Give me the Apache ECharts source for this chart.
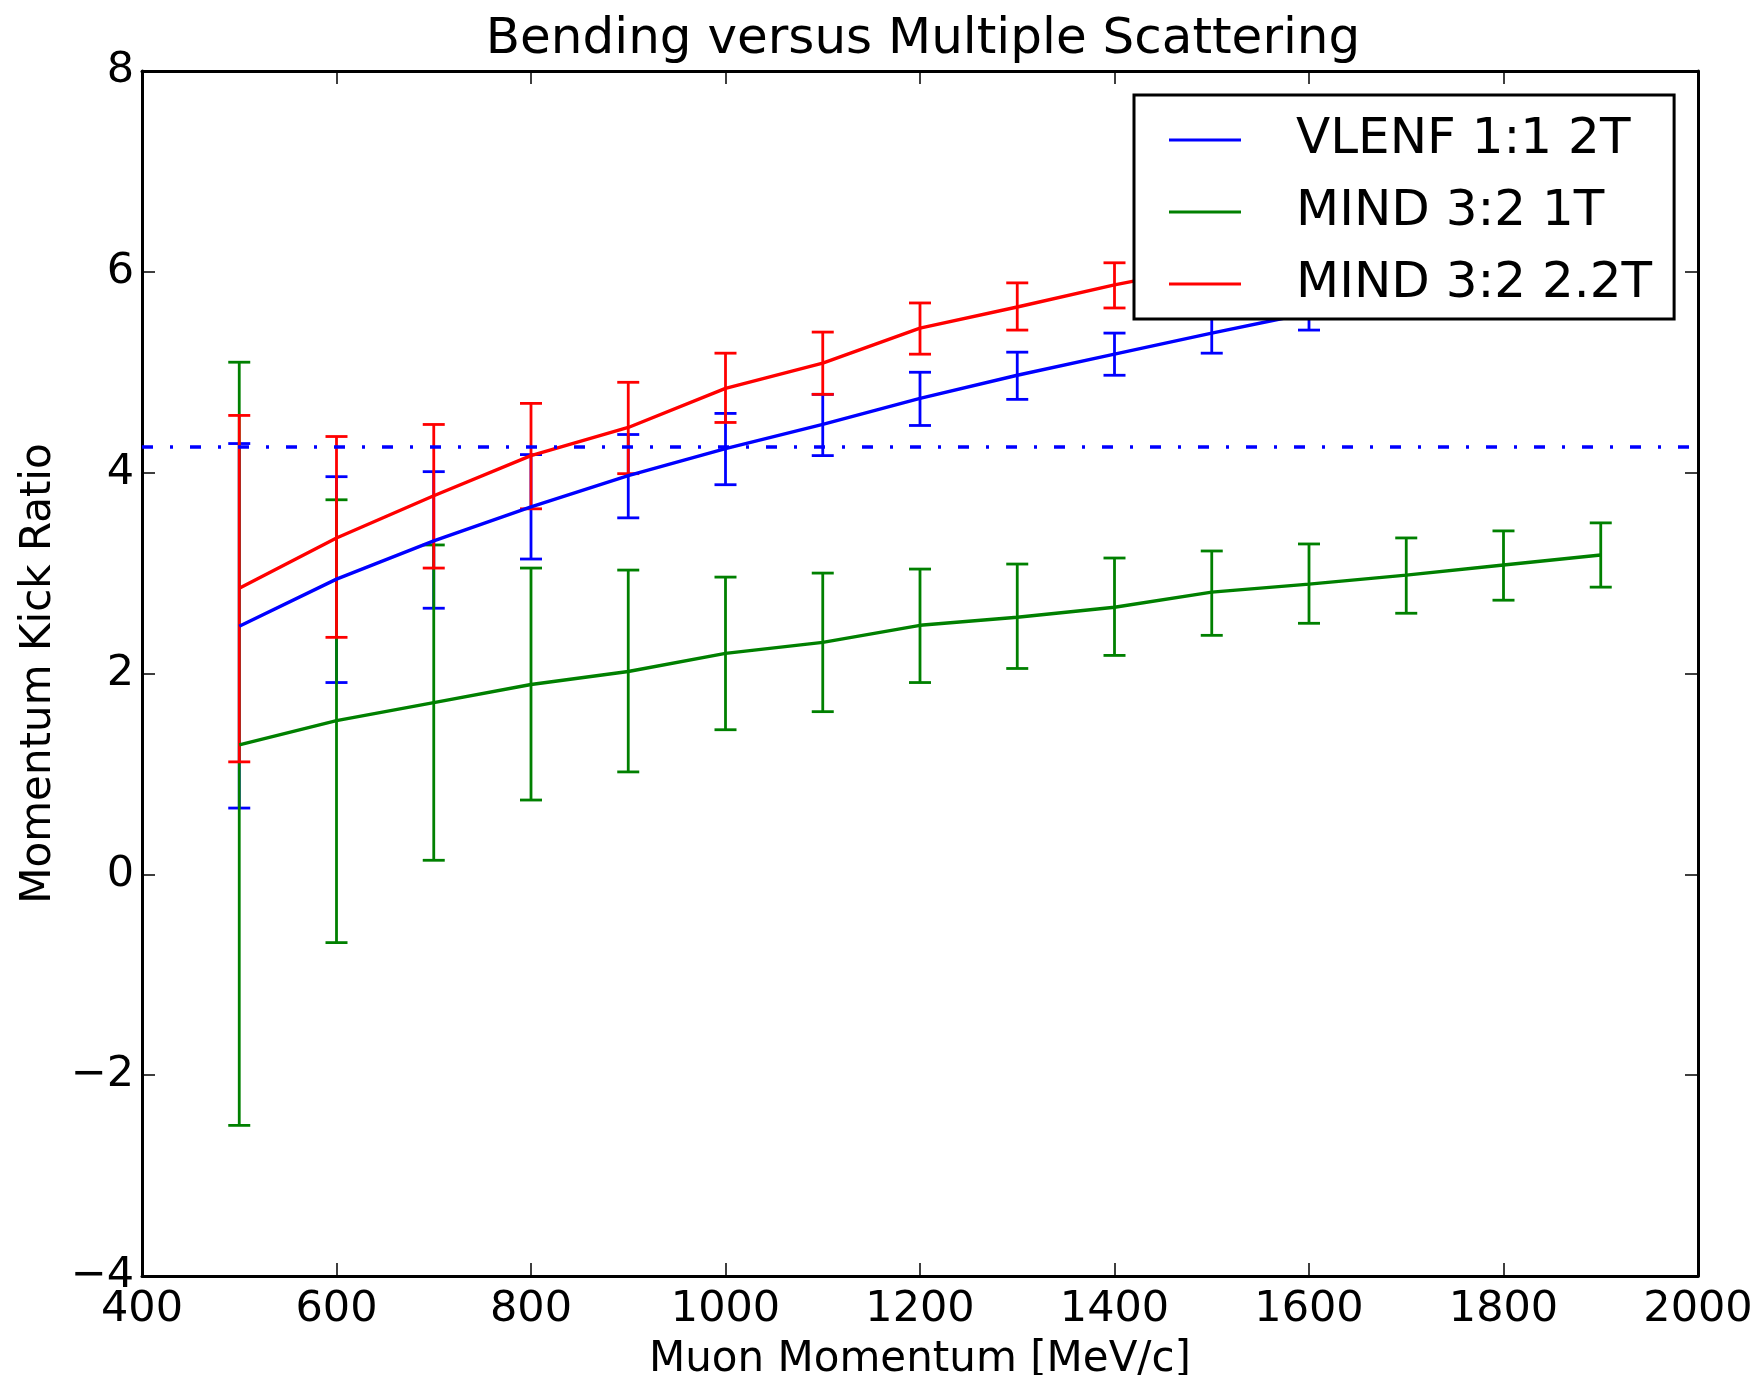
<!DOCTYPE html>
<html>
<head>
<meta charset="utf-8">
<script src="https://cdn.jsdelivr.net/npm/echarts@6/dist/echarts.min.js"></script>
<style>
html,body{margin:0;padding:0;background:#fff;}
#chart{width:1757px;height:1375px;}
</style>
</head>
<body>
<div id="chart"></div>
<script>
// ---- data ----
var TITLE = 'Bending versus Multiple Scattering';
var X_NAME = 'Muon Momentum [MeV/c]';
var Y_NAME = 'Momentum Kick Ratio';
var X_TICKS = [400, 600, 800, 1000, 1200, 1400, 1600, 1800, 2000];
var Y_TICKS = [-4, -2, 0, 2, 4, 6, 8];
var THRESHOLD = 4.26;

var vlenfX  = [500, 600, 700, 800, 900, 1000, 1100, 1200, 1300, 1400, 1500, 1600];
var vlenfY  = [2.47, 2.94, 3.32, 3.66, 3.97, 4.24, 4.48, 4.74, 4.97, 5.18, 5.39, 5.59];
var vlenfLo = [0.66, 1.91, 2.65, 3.14, 3.55, 3.88, 4.17, 4.47, 4.73, 4.97, 5.19, 5.42];
var vlenfHi = [4.29, 3.96, 4.01, 4.18, 4.38, 4.59, 4.78, 5.00, 5.20, 5.39, 5.59, 5.76];

var mind1X  = [500, 600, 700, 800, 900, 1000, 1100, 1200, 1300, 1400, 1500, 1600, 1700, 1800, 1900];
var mind1Y  = [1.29, 1.53, 1.71, 1.89, 2.02, 2.20, 2.31, 2.48, 2.56, 2.66, 2.81, 2.89, 2.98, 3.08, 3.18];
var mind1Lo = [-2.50, -0.68, 0.14, 0.74, 1.02, 1.44, 1.62, 1.91, 2.05, 2.18, 2.38, 2.50, 2.60, 2.73, 2.86];
var mind1Hi = [5.10, 3.73, 3.28, 3.05, 3.03, 2.96, 3.00, 3.04, 3.09, 3.15, 3.22, 3.29, 3.35, 3.42, 3.50];

var mind22X  = [500, 600, 700, 800, 900, 1000, 1100, 1200, 1300, 1400, 1500];
var mind22Y  = [2.85, 3.35, 3.77, 4.17, 4.45, 4.84, 5.09, 5.44, 5.65, 5.87, 6.06];
var mind22Lo = [1.12, 2.36, 3.05, 3.64, 3.99, 4.50, 4.78, 5.18, 5.42, 5.64, 5.85];
var mind22Hi = [4.57, 4.36, 4.48, 4.69, 4.90, 5.19, 5.40, 5.69, 5.89, 6.09, 6.27];

var NAMES = ['VLENF 1:1 2T', 'MIND 3:2 1T', 'MIND 3:2 2.2T'];
var COLORS = ['#0000ff', '#008000', '#ff0000'];

// ---- build options ----
var FONT = 'DejaVu Sans';

function zip2(xs, ys) { return xs.map(function (x, i) { return [x, ys[i]]; }); }
function zip3(xs, lo, hi) { return xs.map(function (x, i) { return [x, lo[i], hi[i]]; }); }

function errSeries(name, color, data) {
  return {
    name: name + ' err',
    type: 'custom',
    data: data,
    encode: { x: 0, y: [1, 2] },
    silent: true,
    z: 2,
    renderItem: function (params, api) {
      var x = api.value(0), lo = api.value(1), hi = api.value(2);
      var a = api.coord([x, lo]), b = api.coord([x, hi]);
      var w = 11;
      var st = { stroke: color, lineWidth: 2.8 };
      return {
        type: 'group',
        children: [
          { type: 'line', shape: { x1: a[0], y1: a[1], x2: b[0], y2: b[1] }, style: st },
          { type: 'line', shape: { x1: a[0] - w, y1: a[1], x2: a[0] + w, y2: a[1] }, style: st },
          { type: 'line', shape: { x1: b[0] - w, y1: b[1], x2: b[0] + w, y2: b[1] }, style: st }
        ]
      };
    }
  };
}

function lineSeries(name, color, data, extra) {
  var s = {
    name: name,
    type: 'line',
    data: data,
    symbol: 'none',
    showSymbol: false,
    silent: true,
    z: 2,
    lineStyle: { color: color, width: 3.4 },
    itemStyle: { color: color }
  };
  if (extra) { for (var k in extra) s[k] = extra[k]; }
  return s;
}

var series = [
  errSeries(NAMES[0], COLORS[0], zip3(vlenfX, vlenfLo, vlenfHi)),
  lineSeries(NAMES[0], COLORS[0], zip2(vlenfX, vlenfY), {
    markLine: {
      silent: true,
      symbol: 'none',
      label: { show: false },
      lineStyle: { color: COLORS[0], width: 3.6, type: [11, 17, 3, 17] },
      data: [{ yAxis: THRESHOLD }]
    }
  }),
  errSeries(NAMES[1], COLORS[1], zip3(mind1X, mind1Lo, mind1Hi)),
  lineSeries(NAMES[1], COLORS[1], zip2(mind1X, mind1Y)),
  errSeries(NAMES[2], COLORS[2], zip3(mind22X, mind22Lo, mind22Hi)),
  lineSeries(NAMES[2], COLORS[2], zip2(mind22X, mind22Y))
];

var xMin = X_TICKS[0], xMax = X_TICKS[X_TICKS.length - 1], xInt = X_TICKS[1] - X_TICKS[0];
var yMin = Y_TICKS[0], yMax = Y_TICKS[Y_TICKS.length - 1], yInt = Y_TICKS[1] - Y_TICKS[0];

function plainFmt(v) { return String(v).replace('-', '\u2212'); }

var axisLine = { show: true, onZero: false, lineStyle: { color: '#000', width: 3 } };
var tick = { show: true, inside: true, length: 13, lineStyle: { color: '#000', width: 1.5 } };

var option = {
  backgroundColor: '#fff',
  animation: false,
  textStyle: { fontFamily: FONT },
  title: {
    text: TITLE,
    left: 918,
    top: 10,
    textAlign: 'center',
    textStyle: { fontFamily: FONT, fontSize: 50, fontWeight: 'normal', color: '#000' }
  },
  grid: { left: 142, right: 59, top: 71, bottom: 99, containLabel: false, outerBoundsMode: 'none' },
  legend: {
    data: NAMES,
    orient: 'vertical',
    left: 1134,
    top: 95,
    padding: [17, 22, 7, 35],
    itemGap: 16,
    itemWidth: 72,
    itemHeight: 3,
    icon: 'rect',
    backgroundColor: '#fff',
    borderColor: '#000',
    borderWidth: 3,
    borderRadius: 0,
    selectedMode: false,
    z: 10,
    textStyle: { fontFamily: FONT, fontSize: 50, color: '#000', lineHeight: 56, padding: [0, 0, 0, 50] }
  },
  xAxis: [
    {
      type: 'value', position: 'bottom', min: xMin, max: xMax, interval: xInt,
      name: X_NAME, nameLocation: 'middle', nameGap: 63,
      nameTextStyle: { fontFamily: FONT, fontSize: 42, color: '#000' },
      axisLine: axisLine, axisTick: tick,
      axisLabel: { show: true, margin: 12, fontFamily: FONT, fontSize: 43, color: '#000', formatter: plainFmt },
      splitLine: { show: false }
    },
    {
      type: 'value', position: 'top', min: xMin, max: xMax, interval: xInt,
      axisLine: axisLine, axisTick: tick, axisLabel: { show: false }, splitLine: { show: false }
    }
  ],
  yAxis: [
    {
      type: 'value', position: 'left', min: yMin, max: yMax, interval: yInt,
      name: Y_NAME, nameLocation: 'middle', nameGap: 82, nameRotate: 90,
      nameTextStyle: { fontFamily: FONT, fontSize: 42, color: '#000' },
      axisLine: axisLine, axisTick: tick,
      axisLabel: { show: true, margin: 8, fontFamily: FONT, fontSize: 43, color: '#000', formatter: plainFmt },
      splitLine: { show: false }
    },
    {
      type: 'value', position: 'right', min: yMin, max: yMax, interval: yInt,
      axisLine: axisLine, axisTick: tick, axisLabel: { show: false }, splitLine: { show: false }
    }
  ],
  series: series
};

var chart = echarts.init(document.getElementById('chart'), null, { renderer: 'canvas' });
chart.setOption(option);
</script>
</body>
</html>
